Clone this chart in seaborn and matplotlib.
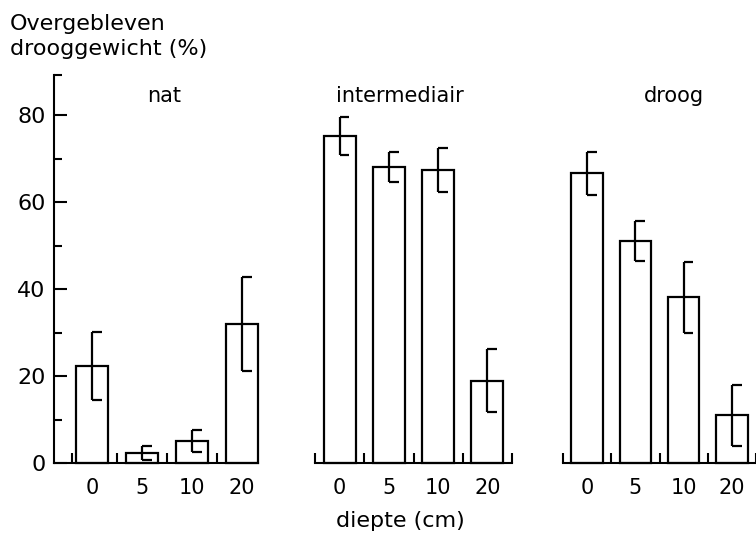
import matplotlib
matplotlib.use("Agg")
import matplotlib.pyplot as plt
import seaborn as sns
import pandas as pd

# Remaining dry weight (%) per moisture regime and burial depth (cm)
conditions = ["nat", "intermediair", "droog"]
depths = ["0", "5", "10", "20"]
nat_mean = [22.3, 2.4, 5.1, 32.0]
nat_err = [7.8, 1.6, 2.5, 10.8]
inter_mean = [75.2, 68.0, 67.4, 18.9]
inter_err = [4.3, 3.5, 5.0, 7.2]
droog_mean = [66.6, 51.0, 38.1, 11.0]
droog_err = [5.0, 4.6, 8.1, 7.0]
y_major = [0, 20, 40, 60, 80]
y_minor = [10, 30, 50, 70]

rows = []
for cond, means, errs in zip(conditions,
                             [nat_mean, inter_mean, droog_mean],
                             [nat_err, inter_err, droog_err]):
    for d, m, e in zip(depths, means, errs):
        rows.append({"conditie": cond, "diepte": d, "gewicht": m, "fout": e})
df = pd.DataFrame(rows)

sns.set_theme(style="ticks")
plt.rcParams["font.family"] = ["DejaVu Sans"]
plt.rcParams["axes.linewidth"] = 1.5

W, H = 756, 536
fig = plt.figure(figsize=(W / 100, H / 100), dpi=100)
fig.patch.set_facecolor("white")

Y_TOP, Y_BOT = 75, 463
YMAX = 89.2


def add_px_axes(x0, x1):
    return fig.add_axes([x0 / W, 1 - Y_BOT / H, (x1 - x0) / W, (Y_BOT - Y_TOP) / H])


panels = [
    (add_px_axes(54, 258), (-0.76, 3.32), [-0.4, 0.5, 1.5, 2.5]),
    (add_px_axes(315, 512), (-0.5, 3.5), [-0.5, 0.5, 1.5, 2.5, 3.5]),
    (add_px_axes(563, 756), (-0.5, 3.45), [-0.5, 0.5, 1.5, 2.5, 3.5]),
]

for i, (cond, (ax, xlim, sep_ticks)) in enumerate(zip(conditions, panels)):
    sub = df[df["conditie"] == cond]
    sns.barplot(data=sub, x="diepte", y="gewicht", order=depths, ax=ax,
                width=0.65, color="white", saturation=1, edgecolor="black",
                linewidth=1.6, errorbar=None)
    for patch in ax.patches:
        patch.set_clip_on(False)
    # error bars: vertical stroke with caps pointing to the right
    xs = list(range(len(depths)))
    lo = sub["gewicht"] - sub["fout"]
    hi = sub["gewicht"] + sub["fout"]
    ax.vlines(xs, lo, hi, color="black", lw=1.6, zorder=5)
    cap = 0.2
    ax.hlines(lo, xs, [x + cap for x in xs], color="black", lw=1.6, zorder=5)
    ax.hlines(hi, xs, [x + cap for x in xs], color="black", lw=1.6, zorder=5)

    ax.set_xlim(*xlim)
    ax.set_ylim(0, YMAX)
    ax.set_xlabel("")
    ax.set_ylabel("")
    ax.set_facecolor("none")

    ax.set_xticks(xs)
    ax.set_xticklabels(depths)
    ax.set_xticks(sep_ticks, minor=True)
    ax.tick_params(axis="x", which="major", length=0, pad=11, labelsize=15, colors="black")
    ax.tick_params(axis="x", which="minor", direction="in", length=7, width=1.5, color="black")

    for side in ["top", "right"]:
        ax.spines[side].set_visible(False)
    ax.spines["bottom"].set_color("black")
    ax.spines["bottom"].set_linewidth(1.5)
    if i == 0:
        ax.spines["left"].set_color("black")
        ax.spines["left"].set_linewidth(1.5)
        ax.set_yticks(y_major)
        ax.set_yticklabels([str(v) for v in y_major])
        ax.set_yticks(y_minor + [YMAX], minor=True)
        ax.tick_params(axis="y", which="major", direction="in", length=9.5, width=1.5,
                       pad=6, labelsize=16, color="black", labelcolor="black")
        ax.tick_params(axis="y", which="minor", direction="in", length=6, width=1.5,
                       color="black")
    else:
        ax.spines["left"].set_visible(False)
        ax.set_yticks([])
        ax.set_yticks([], minor=True)

# panel titles
for cond, xc in zip(conditions, [164, 400, 674]):
    fig.text(xc / W, 1 - 102 / H, cond, ha="center", va="baseline", fontsize=15, color="black")

# axis labels
fig.text(10 / W, 1 - 30 / H, "Overgebleven", ha="left", va="baseline", fontsize=16, color="black")
fig.text(10 / W, 1 - 55 / H, "drooggewicht (%)", ha="left", va="baseline", fontsize=16, color="black")
fig.text(400 / W, 1 - 527 / H, "diepte (cm)", ha="center", va="baseline", fontsize=16, color="black")

fig.savefig("out.png", dpi=100, facecolor="white")
